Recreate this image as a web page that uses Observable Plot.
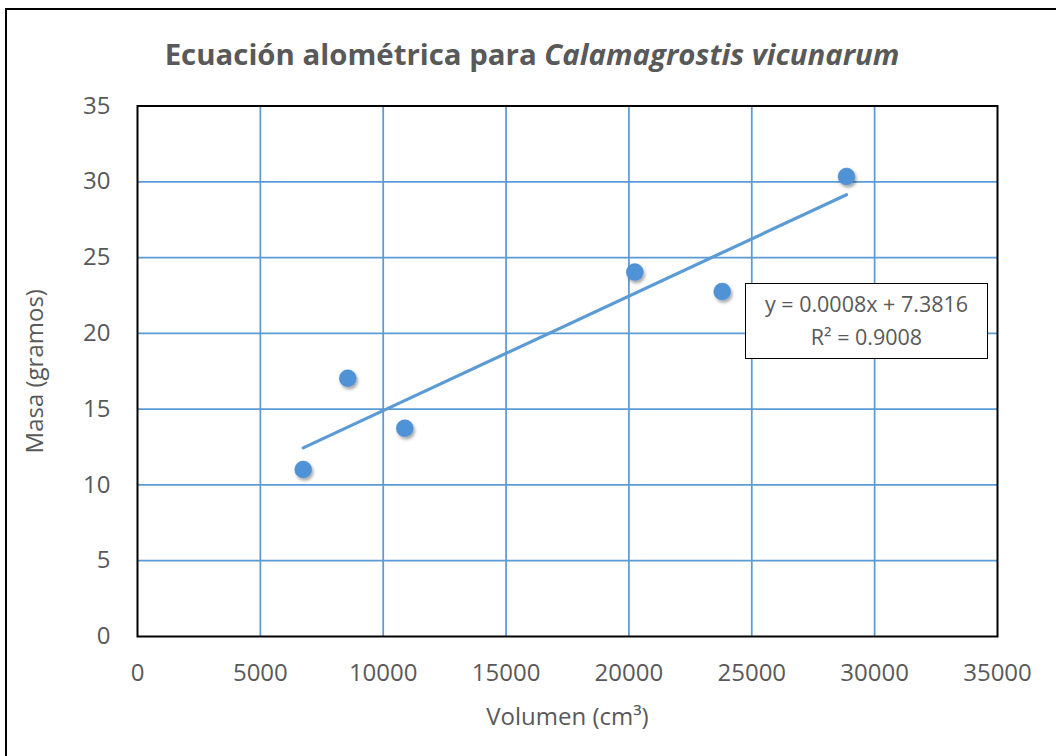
<!DOCTYPE html>
<html>
<head>
<meta charset="utf-8">
<script src="https://cdn.jsdelivr.net/npm/d3@7"></script>
<script src="https://cdn.jsdelivr.net/npm/@observablehq/plot@0.6"></script>
<style>
  body { margin: 0; background: #fff; }
  #wrap { position: relative; width: 1056px; height: 756px; overflow: hidden; background: #fff;
          font-family: "Open Sans", "Liberation Sans", sans-serif; color: #595959; }
  #outer { position: absolute; left: 5px; top: 8px; width: 1200px; height: 900px;
           border-left: 2px solid #000; border-top: 2px solid #000; pointer-events: none; }
  #title { position: absolute; left: 4px; top: 0; width: 1056px; height: 70px; line-height: 108px;
           text-align: center; font-size: 29.4px; font-weight: bold; white-space: nowrap; }
  #chart { position: absolute; left: 0; top: 70px; }
  #chart svg { overflow: visible; }
  #eq { position: absolute; left: 745px; top: 283px; width: 241px; height: 71px;
        border: 1.5px solid #000; background: #fff; text-align: center;
        font-size: 21.5px; line-height: 33px; padding-top: 3px; box-sizing: content-box; }
</style>
</head>
<body>
<div id="wrap">
  <div id="chart"></div>
  <div id="title"></div>
  <div id="eq"></div>
  <div id="outer"></div>
</div>
<script>
// Data
const volumen = [6744, 8559, 10878, 20239, 23796, 28855];   // cm³
const masa    = [11.02, 17.04, 13.74, 24.04, 22.76, 30.35]; // gramos
const xTicks = [0, 5000, 10000, 15000, 20000, 25000, 30000, 35000];
const yTicks = [0, 5, 10, 15, 20, 25, 30, 35];
const xGrid = [5000, 10000, 15000, 20000, 25000, 30000];
const yGrid = [5, 10, 15, 20, 25, 30];
const titleMain = "Ecuación alométrica para ";
const titleSpecies = "Calamagrostis vicunarum";
const xLabel = "Volumen (cm³)";
const yLabel = "Masa (gramos)";
const eqLines = ["y = 0.0008x + 7.3816", "R² = 0.9008"];

const data = volumen.map((v, i) => ({x: v, y: masa[i]}));

document.getElementById("title").innerHTML =
  titleMain + "<i>" + titleSpecies + "</i>";
document.getElementById("eq").innerHTML = eqLines.join("<br>");

const blue = "#5B9BD5";
const chart = Plot.plot({
  width: 1056,
  height: 686,
  marginLeft: 137,
  marginRight: 59,
  marginTop: 35.5,
  marginBottom: 120,
  style: {fontFamily: '"Open Sans", "Liberation Sans", sans-serif', fontSize: "24px", color: "#595959", background: "transparent", overflow: "visible"},
  x: {domain: [0, 35000], ticks: xTicks, tickSize: 0, tickPadding: 27, tickFormat: d => String(d), label: null},
  y: {domain: [0, 35], ticks: yTicks, tickSize: 0, tickPadding: 27, tickFormat: d => String(d), label: null},
  marks: [
    Plot.ruleX(xGrid, {stroke: blue, strokeWidth: 1.75}),
    Plot.ruleY(yGrid, {stroke: blue, strokeWidth: 1.75}),
    Plot.frame({stroke: "#000", strokeWidth: 2}),
    Plot.linearRegressionY(data, {x: "x", y: "y", stroke: blue, strokeWidth: 3.2, ci: 0}),
    Plot.dot(data, {x: "x", y: "y", r: 8.5, fill: "#4F92D6", stroke: "#4A8BD0", strokeWidth: 0.5}),
    Plot.text([xLabel], {frameAnchor: "bottom", dy: 81, lineAnchor: "middle", textAnchor: "middle", fill: "#595959", fontSize: 24}),
    Plot.text([yLabel], {frameAnchor: "left", dx: -102, rotate: -90, lineAnchor: "middle", textAnchor: "middle", fill: "#595959", fontSize: 24})
  ]
});
document.getElementById("chart").appendChild(chart);

// soft drop shadow on the markers, like the original
const svg = d3.select(chart.tagName === "svg" ? chart : chart.querySelector("svg"));
const defs = svg.insert("defs", ":first-child");
const f = defs.append("filter").attr("id", "sh").attr("x", "-50%").attr("y", "-50%").attr("width", "200%").attr("height", "200%");
f.append("feDropShadow").attr("dx", 1.5).attr("dy", 2.5).attr("stdDeviation", 1.6)
  .attr("flood-color", "#000").attr("flood-opacity", 0.35);
svg.selectAll('g[aria-label="dot"]').attr("filter", "url(#sh)");
</script>
</body>
</html>
